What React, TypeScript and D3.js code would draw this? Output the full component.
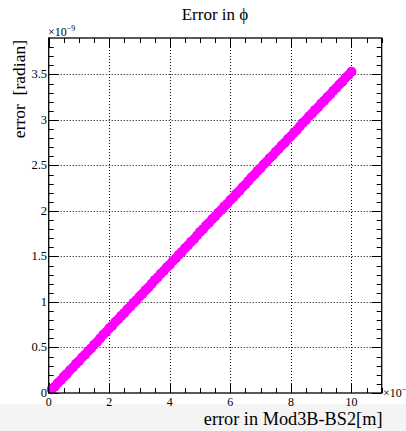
import React, { useEffect, useRef } from "react";
import * as d3 from "d3";

// x in units of 1e-7 m, y in units of 1e-9 rad
const xValues = [
  0.1, 0.2, 0.3, 0.4, 0.5, 0.6, 0.7, 0.8, 0.9, 1.0,
  1.1, 1.2, 1.3, 1.4, 1.5, 1.6, 1.7, 1.8, 1.9, 2.0,
  2.1, 2.2, 2.3, 2.4, 2.5, 2.6, 2.7, 2.8, 2.9, 3.0,
  3.1, 3.2, 3.3, 3.4, 3.5, 3.6, 3.7, 3.8, 3.9, 4.0,
  4.1, 4.2, 4.3, 4.4, 4.5, 4.6, 4.7, 4.8, 4.9, 5.0,
  5.1, 5.2, 5.3, 5.4, 5.5, 5.6, 5.7, 5.8, 5.9, 6.0,
  6.1, 6.2, 6.3, 6.4, 6.5, 6.6, 6.7, 6.8, 6.9, 7.0,
  7.1, 7.2, 7.3, 7.4, 7.5, 7.6, 7.7, 7.8, 7.9, 8.0,
  8.1, 8.2, 8.3, 8.4, 8.5, 8.6, 8.7, 8.8, 8.9, 9.0,
  9.1, 9.2, 9.3, 9.4, 9.5, 9.6, 9.7, 9.8, 9.9, 10.0,
];
const yValues = [
  0.04, 0.07, 0.11, 0.14, 0.18, 0.21, 0.25, 0.28, 0.32, 0.35,
  0.39, 0.42, 0.46, 0.49, 0.53, 0.56, 0.6, 0.64, 0.67, 0.71,
  0.74, 0.78, 0.81, 0.85, 0.88, 0.92, 0.95, 0.99, 1.02, 1.06,
  1.09, 1.13, 1.16, 1.2, 1.24, 1.27, 1.31, 1.34, 1.38, 1.41,
  1.45, 1.48, 1.52, 1.55, 1.59, 1.62, 1.66, 1.69, 1.73, 1.77,
  1.8, 1.84, 1.87, 1.91, 1.94, 1.98, 2.01, 2.05, 2.08, 2.12,
  2.15, 2.19, 2.22, 2.26, 2.29, 2.33, 2.37, 2.4, 2.44, 2.47,
  2.51, 2.54, 2.58, 2.61, 2.65, 2.68, 2.72, 2.75, 2.79, 2.82,
  2.86, 2.89, 2.93, 2.97, 3.0, 3.04, 3.07, 3.11, 3.14, 3.18,
  3.21, 3.25, 3.28, 3.32, 3.35, 3.39, 3.42, 3.46, 3.49, 3.53,
];
const xMajorTicks = [0, 2, 4, 6, 8, 10];
const yMajorTicks = [0, 0.5, 1, 1.5, 2, 2.5, 3, 3.5];

const W = 406;
const H = 431;
const FONT = "'Liberation Serif', 'DejaVu Serif', serif";

export default function App() {
  const ref = useRef<SVGSVGElement | null>(null);

  useEffect(() => {
    document.body.style.margin = "0";
    const svg = d3.select(ref.current);
    svg.selectAll("*").remove();

    const left = 48.7, right = 381.7, top = 38, bottom = 393;
    const x = d3.scaleLinear().domain([0, 11]).range([left, right]);
    const y = d3.scaleLinear().domain([0, 3.9]).range([bottom, top]);

    // bottom grey strip
    svg.append("rect").attr("x", 0).attr("y", 404).attr("width", W).attr("height", H - 404).attr("fill", "#f4f4f4");

    // grid
    const grid = svg.append("g").attr("stroke", "#000").attr("stroke-width", 1).attr("stroke-dasharray", "1,2");
    xMajorTicks.filter((d) => d > 0).forEach((d) => {
      grid.append("line").attr("x1", Math.round(x(d)) + 0.5).attr("x2", Math.round(x(d)) + 0.5).attr("y1", top).attr("y2", bottom);
    });
    yMajorTicks.filter((d) => d > 0).forEach((d) => {
      grid.append("line").attr("y1", Math.round(y(d)) + 0.5).attr("y2", Math.round(y(d)) + 0.5).attr("x1", left).attr("x2", right);
    });

    // ticks on all four sides
    const ticks = svg.append("g").attr("stroke", "#000").attr("stroke-width", 1);
    d3.range(0, 23).forEach((i) => {
      const v = i * 0.5;
      if (v > 11) return;
      const xp = Math.round(x(v)) + 0.5;
      const len = i % 4 === 0 ? 10 : 5;
      ticks.append("line").attr("x1", xp).attr("x2", xp).attr("y1", bottom).attr("y2", bottom - len);
      ticks.append("line").attr("x1", xp).attr("x2", xp).attr("y1", top).attr("y2", top + len);
    });
    d3.range(0, 40).forEach((i) => {
      const v = i * 0.1;
      if (v > 3.9) return;
      const yp = Math.round(y(v)) + 0.5;
      const len = i % 5 === 0 ? 10 : 5;
      ticks.append("line").attr("y1", yp).attr("y2", yp).attr("x1", left).attr("x2", left + len);
      ticks.append("line").attr("y1", yp).attr("y2", yp).attr("x1", right).attr("x2", right - len);
    });

    // data markers
    svg.append("g").attr("fill", "#ff00ff")
      .selectAll("circle")
      .data(xValues.map((v, i) => [v, yValues[i]]))
      .join("circle")
      .attr("cx", (d) => x(d[0]))
      .attr("cy", (d) => y(d[1]))
      .attr("r", 5);

    // frame
    svg.append("rect").attr("x", left).attr("y", top).attr("width", right - left).attr("height", bottom - top)
      .attr("fill", "none").attr("stroke", "#000").attr("stroke-width", 1.3);

    // tick labels
    svg.append("g").selectAll("text").data(xMajorTicks).join("text")
      .attr("x", (d) => x(d)).attr("y", 405.5).attr("text-anchor", "middle")
      .attr("font-family", FONT).attr("font-size", 12).text((d) => String(d));
    svg.append("g").selectAll("text").data(yMajorTicks).join("text")
      .attr("x", 47).attr("y", (d) => y(d) + 4).attr("text-anchor", "end")
      .attr("font-family", FONT).attr("font-size", 12.5).text((d) => String(d));

    // exponents
    const e1 = svg.append("text").attr("x", 48).attr("y", 36).attr("font-family", FONT).attr("font-size", 12);
    e1.append("tspan").text("×10");
    e1.append("tspan").attr("font-size", 8).attr("dy", -5).text("−9");
    const e2 = svg.append("text").attr("x", 383).attr("y", 397).attr("font-family", FONT).attr("font-size", 12);
    e2.append("tspan").text("×10");
    e2.append("tspan").attr("font-size", 8).attr("dy", -5).text("−7");

    // title and axis titles
    svg.append("text").attr("x", 215).attr("y", 20).attr("text-anchor", "middle")
      .attr("font-family", FONT).attr("font-size", 17).text("Error in ϕ");
    svg.append("text").attr("x", 382.5).attr("y", 425).attr("text-anchor", "end")
      .attr("font-family", FONT).attr("font-size", 18.3).text("error in Mod3B-BS2[m]");
    svg.append("text").attr("transform", `translate(25,40) rotate(-90)`).attr("text-anchor", "end")
      .attr("font-family", FONT).attr("font-size", 17.5).attr("xml:space", "preserve")
      .style("white-space", "pre").text("error  [radian]");
  }, []);

  return <svg ref={ref} width={W} height={H} style={{ display: "block", background: "#fff" }} />;
}
